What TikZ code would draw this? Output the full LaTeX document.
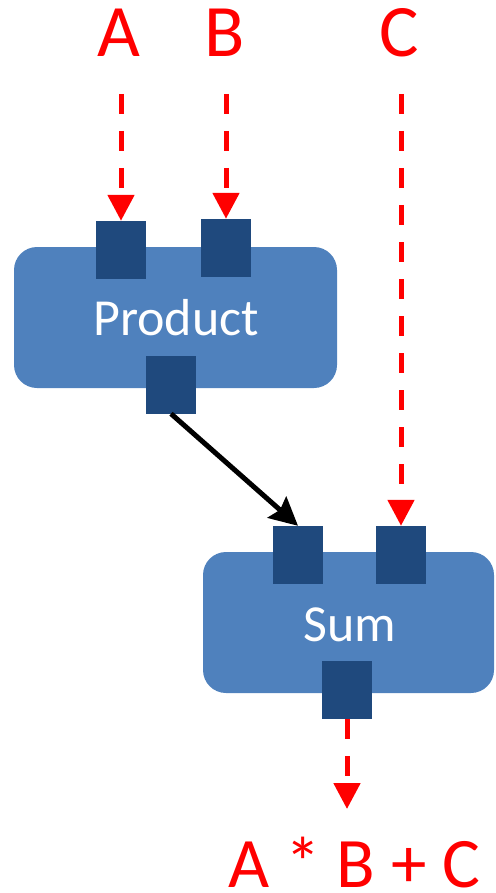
\documentclass[tikz,border=0pt]{standalone}
\usepackage{fontspec}
\setmainfont{Carlito}
\usetikzlibrary{arrows.meta}
\definecolor{boxblue}{HTML}{4F81BD}
\definecolor{portblue}{HTML}{1F497D}
\definecolor{flowred}{HTML}{FF0000}
\begin{document}
\begin{tikzpicture}[x=1pt,y=-1pt,
  block/.style={fill=boxblue, rounded corners=23pt, inner sep=0pt,
    minimum height=141pt},
  port/.style={fill=portblue, inner sep=0pt, minimum width=50pt, minimum height=58pt},
  blocklabel/.style={text=white, anchor=base, inner sep=0pt,
    font=\fontsize{52}{52}\selectfont},
  varlabel/.style={text=flowred, anchor=base, inner sep=0pt,
    font=\fontsize{74}{74}\selectfont},
  dataflow/.style={draw=flowred, line width=5pt, dash pattern=on 20pt off 17pt,
    -{Triangle[width=26pt,length=26pt]}},
  link/.style={draw=black, line width=5pt,
    -{Stealth[width=28pt,length=28pt,inset=4pt]}}]
\useasboundingbox (0,0) rectangle (495,893);

% blocks
\node[block, minimum width=323pt] (product) at (175.5,317.5) {};
\node[block, minimum width=291pt] (sum) at (348.5,622.5) {};
\node[blocklabel] (productlabel) at (176,335) {Product};
\node[blocklabel] (sumlabel) at (350,641) {Sum};

% ports
\node[port] (pa) at (121,250) {};
\node[port] (pb) at (226,248) {};
\node[port] (pout) at (171,384.5) {};
\node[port] (s1) at (298,555) {};
\node[port] (s2) at (401,555) {};
\node[port] (sout) at (347,690) {};

% inputs and result
\node[varlabel] (a) at (119,57) {A};
\node[varlabel] (b) at (225,57) {B};
\node[varlabel] (c) at (399,57) {C};
\node[varlabel, font=\fontsize{71}{71}\selectfont] (result) at (354.5,887) {A * B + C};

\coordinate (astart) at (121,94);
\coordinate (bstart) at (226,94);
\coordinate (cstart) at (401,94);
\coordinate (resend) at (347,809);

% connectors
\draw[dataflow] (astart) -- (pa.north);
\draw[dataflow] (bstart) -- (pb.north);
\draw[dataflow] (cstart) -- (s2.north);
\draw[dataflow] (sout.south) -- (resend);
\draw[link] (pout.south) -- (s1.north);
\end{tikzpicture}
\end{document}
